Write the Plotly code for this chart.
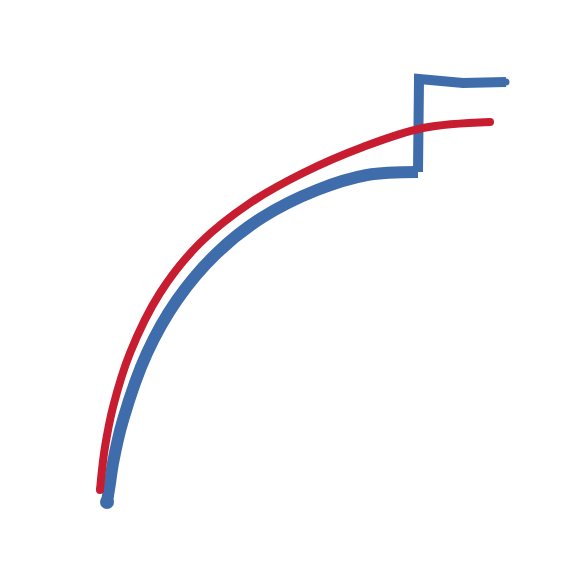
import plotly.graph_objects as go

# points (pixel space, y grows downward)
red_x = [100, 102, 105, 113, 130, 160, 200, 250, 303, 363, 423, 490]
red_y = [490, 470, 447, 407, 353, 293, 243, 203, 173, 147, 128, 122]

blue_curve_x = [107, 110, 113, 123, 147, 177, 217, 263, 317, 367, 418]
blue_curve_y = [502, 483, 463, 420, 353, 300, 253, 217, 190, 175, 172]

blue_flag_x = [418, 419, 463, 506]
blue_flag_y = [172, 79, 83, 82]

blue = "#3f6dab"
red = "#c81d31"

fig = go.Figure()

# blue curve, then the square step and flag
fig.add_trace(go.Scatter(x=blue_curve_x, y=blue_curve_y, mode="lines",
                         line=dict(color=blue, width=12, shape="spline")))
fig.add_trace(go.Scatter(x=blue_flag_x, y=blue_flag_y, mode="lines",
                         line=dict(color=blue, width=10)))
# round caps
fig.add_trace(go.Scatter(x=[blue_curve_x[0]], y=[blue_curve_y[0]], mode="markers",
                         marker=dict(color=blue, size=14, line=dict(width=0))))
fig.add_trace(go.Scatter(x=[blue_flag_x[-1]], y=[blue_flag_y[-1]], mode="markers",
                         marker=dict(color=blue, size=7, line=dict(width=0))))

# red curve on top
fig.add_trace(go.Scatter(x=red_x, y=red_y, mode="lines",
                         line=dict(color=red, width=8, shape="spline")))
fig.add_trace(go.Scatter(x=[red_x[0], red_x[-1]], y=[red_y[0], red_y[-1]], mode="markers",
                         marker=dict(color=red, size=8, line=dict(width=0))))

# the page body adds an 8px margin, so the plot starts at 8px
fig.update_xaxes(range=[8, 580], visible=False)
fig.update_yaxes(range=[580, 8], visible=False)
fig.update_layout(width=572, height=572, margin=dict(l=0, r=0, t=0, b=0),
                  showlegend=False, plot_bgcolor="white", paper_bgcolor="white")

fig.write_html("out.html")
